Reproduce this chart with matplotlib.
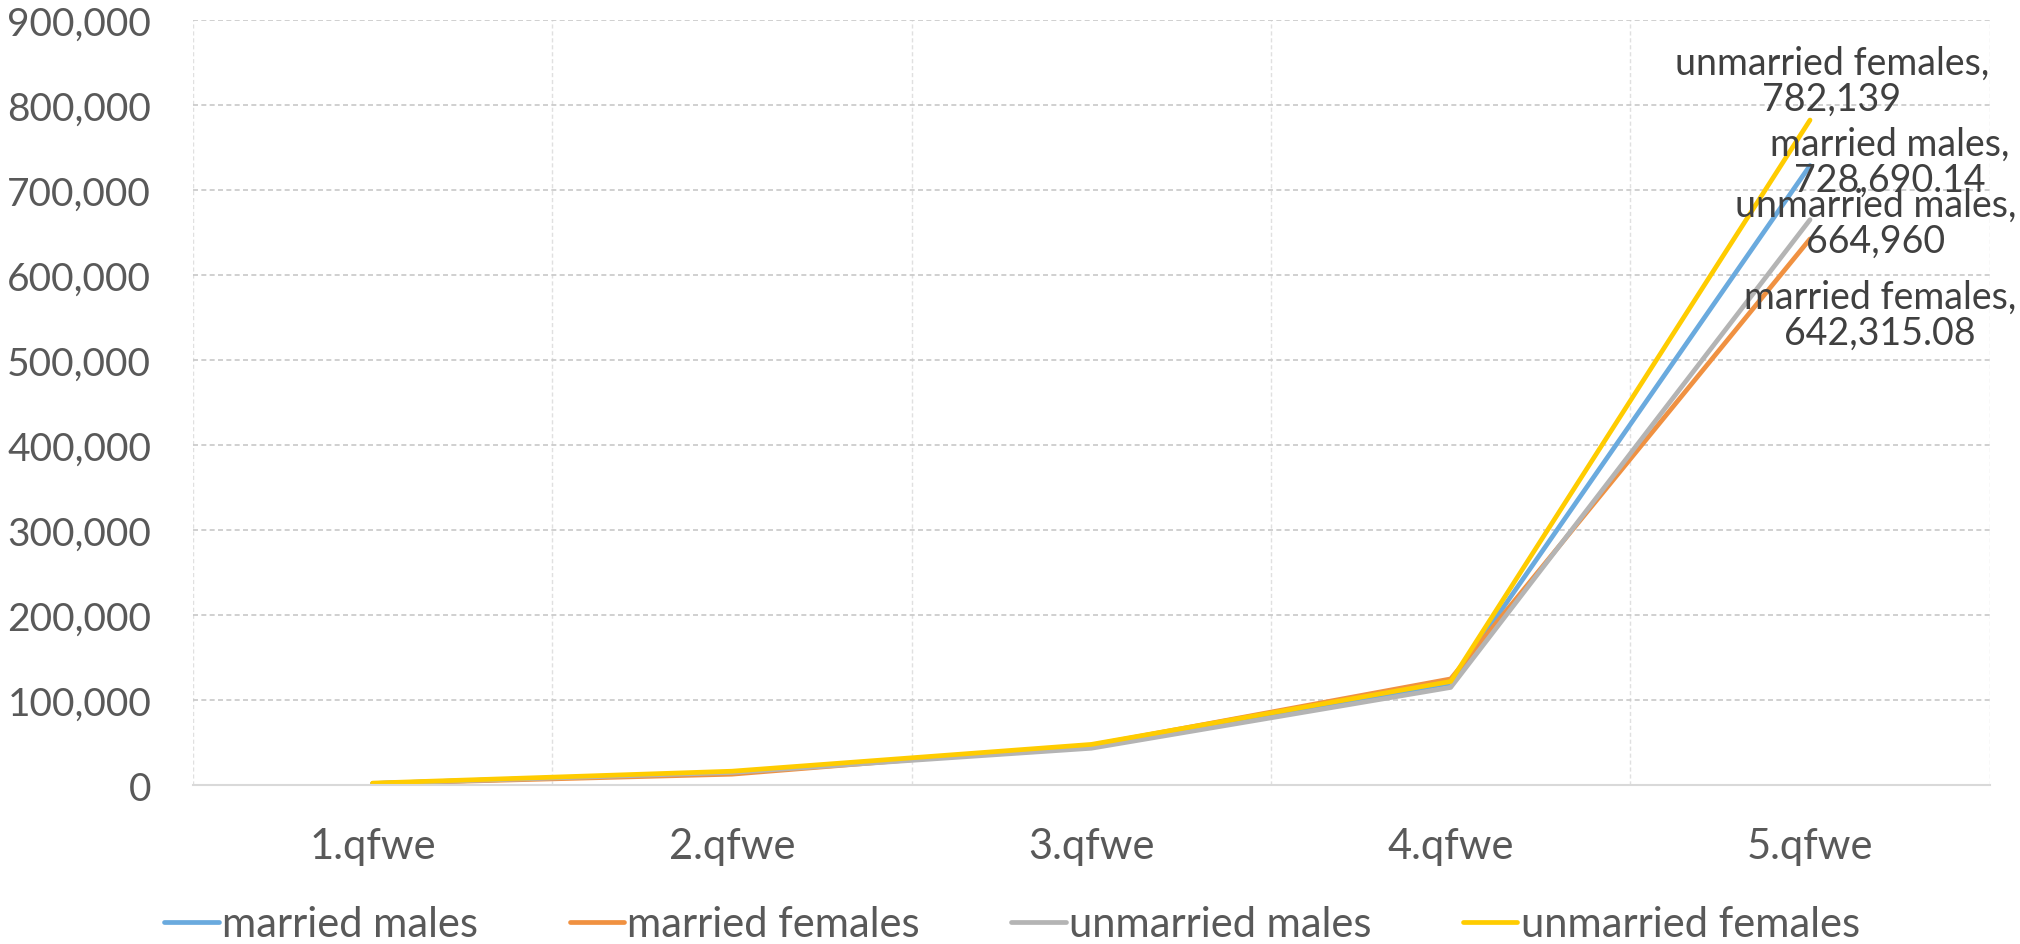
import matplotlib
matplotlib.use("Agg")
import matplotlib.pyplot as plt
from matplotlib.ticker import FuncFormatter

plt.rcParams['font.family'] = ['Lato', 'DejaVu Sans']

categories = ['1.qfwe', '2.qfwe', '3.qfwe', '4.qfwe', '5.qfwe']
series_names = ['married males', 'married females', 'unmarried males', 'unmarried females']
married_males = [2000, 15000, 46000, 120000, 728690.14]
married_females = [2000, 13000, 47000, 125000, 642315.08]
unmarried_males = [2000, 15000, 43500, 115000, 664960]
unmarried_females = [2500, 16500, 48000, 122000, 782139]
end_labels = ['728,690.14', '642,315.08', '664,960', '782,139']

colors = ['#6AAADE', '#F09141', '#B4B4B4', '#FFCC00']
# label offsets in pixels (dx, dy) from the last point
offsets = [(80, 4), (70, -76), (66, -3), (22, 39)]

fig = plt.figure(figsize=(20.2, 9.45), dpi=100)
ax = fig.add_axes([0.0955, 0.168, 0.985 - 0.0955, 0.978 - 0.168])

x = list(range(len(categories)))
all_series = [married_males, married_females, unmarried_males, unmarried_females]
for name, vals, col, off, lab in zip(series_names, all_series, colors, offsets, end_labels):
    ax.plot(x, vals, color=col, lw=3.4, label=name, solid_capstyle='round', solid_joinstyle='round')
    ax.annotate(name + ',\n' + lab, xy=(x[-1], vals[-1]), xytext=off,
                textcoords='offset pixels', ha='center', va='center',
                fontsize=27, color='#404040', linespacing=1.0)

ax.set_xlim(-0.5, 4.5)
ax.set_ylim(0, 900000)
ax.set_yticks(range(0, 900001, 100000))
ax.yaxis.set_major_formatter(FuncFormatter(lambda v, p: f'{int(v):,}'))
ax.set_xticks(x)
ax.set_xticklabels(categories)

ax.set_xticks([-0.5, 0.5, 1.5, 2.5, 3.5, 4.5], minor=True)
ax.grid(axis='y', which='major', color='#C8C8C8', ls=(0, (3, 2)), lw=1.2)
ax.grid(axis='x', which='minor', color='#E0E0E0', ls=(0, (3, 2)), lw=1.0)
ax.set_axisbelow(True)

for s in ['top', 'right', 'left']:
    ax.spines[s].set_visible(False)
ax.spines['bottom'].set_color('#D9D9D9')
ax.spines['bottom'].set_linewidth(1.5)

ax.tick_params(axis='both', which='both', length=0, labelcolor='#595959')
ax.tick_params(axis='y', pad=30, labelsize=28)
ax.tick_params(axis='x', pad=30, labelsize=30)

fig.legend(loc='center', bbox_to_anchor=(0.501, 0.021), ncol=4, frameon=False,
           fontsize=30, handlelength=1.3, handletextpad=0.08, columnspacing=2.2,
           labelcolor='#595959')

fig.savefig('out.png', dpi=100, facecolor='white')
